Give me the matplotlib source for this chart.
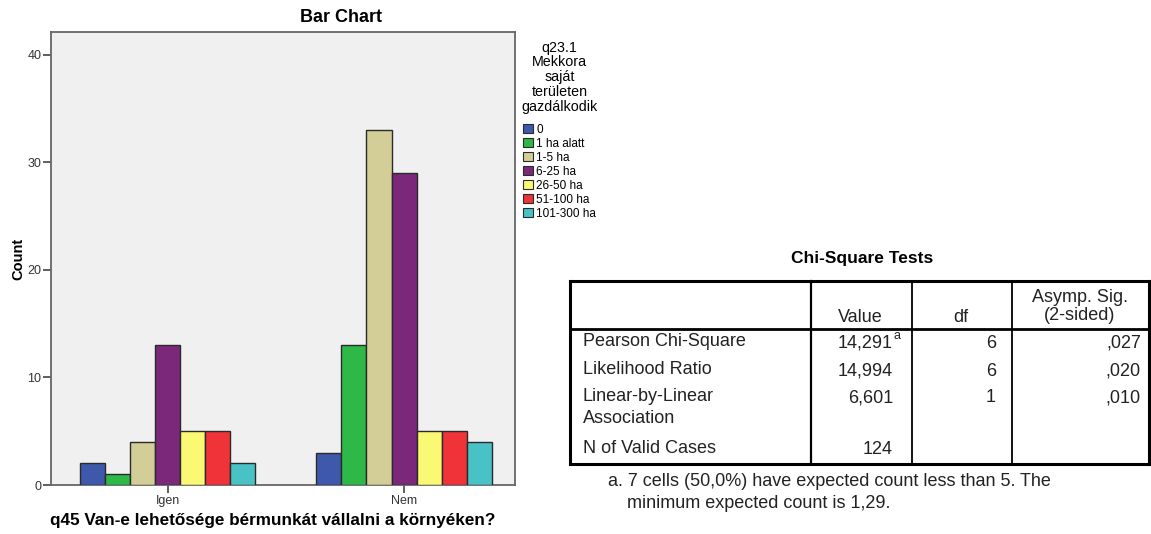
import matplotlib
matplotlib.use("Agg")
import matplotlib.pyplot as plt
from matplotlib.patches import Patch
from matplotlib.lines import Line2D
import numpy as np

plt.rcParams['font.family'] = ['Liberation Sans', 'DejaVu Sans']

# ---- data ----
groups = ["Igen", "Nem"]
series_names = ["0", "1 ha alatt", "1-5 ha", "6-25 ha", "26-50 ha", "51-100 ha", "101-300 ha"]
counts_igen = [2, 1, 4, 13, 5, 5, 2]
counts_nem = [3, 13, 33, 29, 5, 5, 4]
yticks = [0, 10, 20, 30, 40]

table_rows = ["Pearson Chi-Square", "Likelihood Ratio", "Linear-by-Linear\nAssociation", "N of Valid Cases"]
table_value = ["14,291", "14,994", "6,601", "124"]
table_df = ["6", "6", "1", ""]
table_sig = [",027", ",020", ",010", ""]
footnote = ["a. 7 cells (50,0%) have expected count less than 5. The",
            "minimum expected count is 1,29."]

colors = ["#3E58AC", "#2EB848", "#D3CE97", "#7B287B", "#FBF873", "#EF3338", "#48C2C5"]

W, H = 1151, 534
fig = plt.figure(figsize=(W / 100, H / 100), dpi=100)

def fx(px):
    return px / W

def fy(py):
    return 1 - py / H

ax_l, ax_r, ax_t, ax_b = 51, 515, 32, 485
ax = fig.add_axes([fx(ax_l), fy(ax_b), fx(ax_r) - fx(ax_l), fy(ax_t) - fy(ax_b)])
ax.set_facecolor("#F0F0F0")

data = np.array([counts_igen, counts_nem])
x = np.arange(len(groups))
bw = 0.106
n = len(series_names)
for i in range(n):
    ax.bar(x + (i - (n - 1) / 2) * bw, data[:, i], width=bw, color=colors[i],
           edgecolor="#2a2a2a", linewidth=1.0, label=series_names[i], zorder=3)

ax.set_xlim(-0.495, 1.47)
ax.set_ylim(0, 42.1)
ax.set_yticks(yticks)
ax.set_yticklabels([str(t) for t in yticks], fontsize=9, color="#333333")
ax.set_xticks(x)
ax.set_xticklabels(groups, fontsize=9, color="#333333")
ax.tick_params(axis='both', direction='out', length=5.5, width=1.2, color="#444444", pad=1.5)
for s in ax.spines.values():
    s.set_color("#666666")
    s.set_linewidth(1.3)

ax.set_ylabel("Count", fontsize=10.5, fontweight='bold')
ax.yaxis.set_label_coords((25 - ax_l) / (ax_r - ax_l), 0.5)
ax.set_xlabel("q45 Van-e lehetősége bérmunkát vállalni a környéken?", fontsize=12.3,
              fontweight='bold')
ax.xaxis.set_label_coords((273 - ax_l) / (ax_r - ax_l), -(520 - ax_b) / (ax_b - ax_t))
ax.xaxis.label.set_va('center')
fig.text(fx(341), fy(18), "Bar Chart", ha='center', va='center', fontsize=13, fontweight='bold')

handles = [Patch(facecolor=colors[i], edgecolor="#2a2a2a", linewidth=0.8, label=series_names[i])
           for i in range(n)]
leg = fig.legend(handles=handles, loc='upper left', bbox_to_anchor=(fx(518), fy(37)),
                 title="q23.1\nMekkora\nsaját\nterületen\ngazdálkodik",
                 fontsize=8.5, title_fontsize=10.3, frameon=False,
                 handlelength=0.85, handleheight=0.8, handletextpad=0.25,
                 labelspacing=0.17, borderaxespad=0, borderpad=0.3)
leg._legend_box.align = "center"
leg._legend_box.sep = 7
leg.get_title().set_multialignment('center')
leg.get_title().set_linespacing(1.08)

# ---- table ----
fig.text(fx(862), fy(258), "Chi-Square Tests", ha='center', va='center',
         fontsize=12.5, fontweight='bold')

left, c1, c2, c3, right = 570, 811, 912, 1012, 1149
top, hdr, bot = 281, 329, 464

def hline(y, x0, x1, lw):
    fig.add_artist(Line2D([fx(x0), fx(x1)], [fy(y), fy(y)], color='black', linewidth=lw,
                          solid_capstyle='projecting'))

def vline(xp, y0, y1, lw):
    fig.add_artist(Line2D([fx(xp), fx(xp)], [fy(y0), fy(y1)], color='black', linewidth=lw,
                          solid_capstyle='projecting'))

hline(top, left, right, 2.2)
hline(hdr, left, right, 2.0)
hline(bot, left, right, 2.2)
vline(left, top, bot, 2.2)
vline(right, top, bot, 2.2)
vline(c1, top, bot, 1.6)
vline(c2, top, bot, 1.3)
vline(c3, top, bot, 1.3)

fs = 13
tc = "#222222"
fig.text(fx(860), fy(318), "Value", ha='center', va='center', fontsize=fs, color=tc)
fig.text(fx(961), fy(318), "df", ha='center', va='center', fontsize=fs, color=tc)
fig.text(fx(1080), fy(297), "Asymp. Sig.", ha='center', va='center', fontsize=fs, color=tc)
fig.text(fx(1080), fy(316), "(2-sided)", ha='center', va='center', fontsize=fs, color=tc)

row_y = [343, 371, 398, 450]
for i, r in enumerate(table_rows):
    fig.text(fx(583), fy(row_y[i] - 10), r, ha='left', va='top',
             fontsize=fs, linespacing=1.4, color=tc)
    fig.text(fx(893), fy(row_y[i]), table_value[i], ha='right', va='center', fontsize=fs, color=tc)
    fig.text(fx(996), fy(row_y[i]), table_df[i], ha='right', va='center', fontsize=fs, color=tc)
    fig.text(fx(1141), fy(row_y[i]), table_sig[i], ha='right', va='center', fontsize=fs, color=tc)
fig.text(fx(894), fy(336), "a", ha='left', va='center', fontsize=9, color=tc)

fig.text(fx(608), fy(481), footnote[0], ha='left', va='center', fontsize=fs, color=tc)
fig.text(fx(627), fy(503), footnote[1], ha='left', va='center', fontsize=fs, color=tc)

fig.savefig("out.png", dpi=100)
